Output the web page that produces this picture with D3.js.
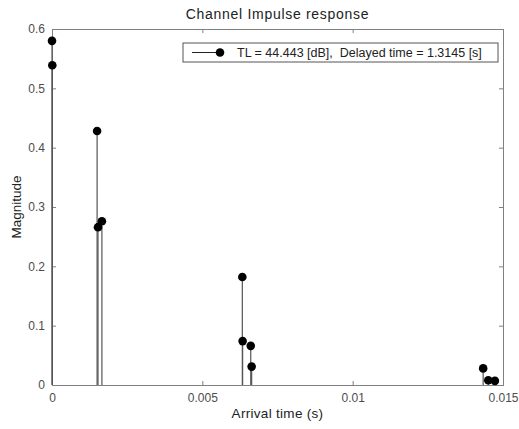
<!DOCTYPE html>
<html>
<head>
<meta charset="utf-8">
<script src="https://cdn.jsdelivr.net/npm/d3@7"></script>
<style>
  body { margin: 0; background: #fff; }
  text { font-family: "Liberation Sans", Arial, sans-serif; }
</style>
</head>
<body>
<div id="chart"></div>
<script>

// ======================= //
// DATA
// ======================= //

// arrival times (s) and magnitudes
var arrivalTimes = [0, 0.00001, 0.00150, 0.00153, 0.00166, 0.00633, 0.00634, 0.00661, 0.00664, 0.01434, 0.01451, 0.01473]
var magnitudes   = [0.580, 0.539, 0.428, 0.266, 0.276, 0.182, 0.074, 0.066, 0.031, 0.028, 0.008, 0.007]

var xTicks = [0, 0.005, 0.01, 0.015]
var yTicks = [0, 0.1, 0.2, 0.3, 0.4, 0.5, 0.6]

var titleText = "Channel Impulse response"
var xLabelText = "Arrival time (s)"
var yLabelText = "Magnitude"
var legendText = "TL = 44.443 [dB],  Delayed time = 1.3145 [s]"

var arrivals = arrivalTimes.map(function(t, i){ return {t: t, m: magnitudes[i]} })

// ======================= //
// SVG AREA
// ======================= //

var margin = {top: 29, right: 16, bottom: 44, left: 52},
  width = 519 - margin.left - margin.right,
  height = 429 - margin.top - margin.bottom;

var svg = d3.select("#chart")
.append("svg")
  .attr("width", 519)
  .attr("height", 429)
.append("g")
  .attr("transform", "translate(" + margin.left + "," + margin.top + ")");

// ======================= //
// AXIS and SCALES
// ======================= //

var x = d3.scaleLinear()
  .domain([0, 0.015])
  .range([0, width]);

var y = d3.scaleLinear()
  .domain([0, 0.6])
  .range([height, 0]);

var axisColor = "#808080"
var labelColor = "#4d4d4d"
var fmt = function(d){ return d === 0 ? "0" : d3.format("~g")(d) }

// bottom axis, ticks pointing inside
var xAxis = svg.append("g")
  .attr("transform", "translate(0," + height + ")")
  .call(d3.axisBottom(x).tickValues(xTicks).tickFormat(fmt).tickSize(-4).tickPadding(8))
// left axis
var yAxis = svg.append("g")
  .call(d3.axisLeft(y).tickValues(yTicks).tickFormat(fmt).tickSize(-4).tickPadding(7))
// mirrored ticks on top and right
var xTop = svg.append("g")
  .call(d3.axisTop(x).tickValues(xTicks).tickFormat("").tickSize(-4))
var yRight = svg.append("g")
  .attr("transform", "translate(" + width + ",0)")
  .call(d3.axisRight(y).tickValues(yTicks).tickFormat("").tickSize(-4))

;[xAxis, yAxis, xTop, yRight].forEach(function(a){
  a.selectAll("path, line").style("stroke", axisColor)
  a.selectAll("text")
    .style("font-size", "12px")
    .style("fill", labelColor)
})

// ======================= //
// SHAPES
// ======================= //

// stems
svg.selectAll(".stem")
  .data(arrivals)
  .enter()
  .append("line")
    .attr("class", "stem")
    .attr("x1", function(d){ return x(d.t) })
    .attr("x2", function(d){ return x(d.t) })
    .attr("y1", y(0))
    .attr("y2", function(d){ return y(d.m) })
    .style("stroke", "#555")
    .style("stroke-width", 1.2)

// markers
svg.selectAll(".dot")
  .data(arrivals)
  .enter()
  .append("circle")
    .attr("class", "dot")
    .attr("cx", function(d){ return x(d.t) })
    .attr("cy", function(d){ return y(d.m) })
    .attr("r", 4.3)
    .style("fill", "black")

// ======================= //
// TEXT
// ======================= //

svg.append("text")
  .attr("x", width / 2)
  .attr("y", -10)
  .attr("text-anchor", "middle")
  .style("font-size", "14px")
  .style("letter-spacing", "0.7px")
  .style("fill", "#222")
  .text(titleText)

svg.append("text")
  .attr("x", width / 2)
  .attr("y", height + 33)
  .attr("text-anchor", "middle")
  .style("font-size", "13.5px")
  .style("letter-spacing", "0.3px")
  .style("fill", "#222")
  .text(xLabelText)

svg.append("text")
  .attr("transform", "translate(-31," + (height / 2) + ")rotate(-90)")
  .attr("text-anchor", "middle")
  .style("font-size", "13.5px")
  .style("fill", "#222")
  .text(yLabelText)

// ======================= //
// LEGEND
// ======================= //

var legend = svg.append("g")
  .attr("transform", "translate(131,14)")

legend.append("rect")
  .attr("width", 315)
  .attr("height", 19)
  .style("fill", "white")
  .style("stroke", "#555")

legend.append("line")
  .attr("x1", 9).attr("x2", 37)
  .attr("y1", 9.5).attr("y2", 9.5)
  .style("stroke", "#222")

legend.append("circle")
  .attr("cx", 37).attr("cy", 9.5).attr("r", 4.3)
  .style("fill", "black")

legend.append("text")
  .attr("x", 54)
  .attr("y", 14)
  .style("font-size", "12.5px")
  .style("white-space", "pre")
  .style("fill", "#222")
  .text(legendText)

</script>
</body>
</html>
